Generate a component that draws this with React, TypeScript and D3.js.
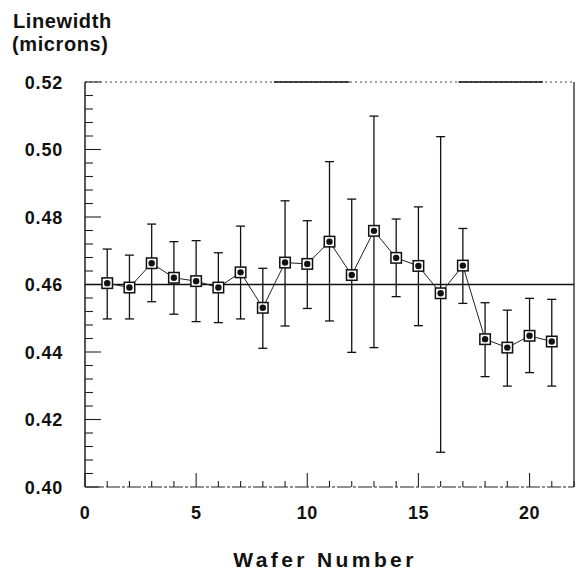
import React from "react";
import * as d3 from "d3";

const wafers = [1,2,3,4,5,6,7,8,9,10,11,12,13,14,15,16,17,18,19,20,21];
const means = [0.4604,0.4591,0.4663,0.4620,0.4610,0.4591,0.4636,0.4531,0.4665,0.4661,0.4727,0.4628,0.4759,0.4679,0.4655,0.4574,0.4656,0.4438,0.4413,0.4448,0.4431];
const upper = [0.4705,0.4687,0.4779,0.4727,0.4730,0.4694,0.4773,0.4648,0.4848,0.4789,0.4964,0.4853,0.5099,0.4794,0.4830,0.5038,0.4766,0.4546,0.4524,0.4559,0.4556];
const lower = [0.4498,0.4498,0.4549,0.4512,0.4490,0.4487,0.4498,0.4411,0.4477,0.4529,0.4492,0.4399,0.4413,0.4564,0.4478,0.4103,0.4544,0.4327,0.4299,0.4339,0.4299];
const yTickLabels = ["0.40","0.42","0.44","0.46","0.48","0.50","0.52"];
const xTickLabels = ["0","5","10","15","20"];
const target = 0.46;

const W = 576, H = 572;
const FONT = "'Liberation Sans', Arial, Helvetica, sans-serif";

export default function App() {
  const x = d3.scaleLinear().domain([0, 22]).range([85, 574]);
  const y = d3.scaleLinear().domain([0.40, 0.52]).range([487, 82]);
  const [x0, x1] = x.range();
  const [yb, yt] = y.range();

  const yMinor = d3.range(0, 31).map(i => 0.40 + i * 0.004);
  const xMinor = d3.range(0, 23);

  const line = d3.line<number>()
    .x((_, i) => x(wafers[i]))
    .y(d => y(d));

  const cap = 4.5;
  const sq = 10.5;

  return (
    <svg width={W} height={H} style={{ position: "absolute", left: 0, top: 0, background: "#fff" }}
      fontFamily={FONT}>
      <rect x={0} y={0} width={W} height={H} fill="#fff" />
      {/* axis titles */}
      <text x={13} y={28} fontSize={20} fontWeight="bold" letterSpacing={0.6} fill="#111">Linewidth</text>
      <text x={12} y={51} fontSize={20} fontWeight="bold" letterSpacing={0.6} fill="#111">(microns)</text>
      <text x={(230 + 420) / 2} y={567} fontSize={21} fontWeight="bold" letterSpacing={3.4} textAnchor="middle" fill="#111">Wafer Number</text>

      {/* frame */}
      <line x1={x0} x2={x0} y1={yt} y2={yb} stroke="#111" strokeWidth={1.4} />
      <line x1={x1} x2={x1} y1={yt} y2={yb} stroke="#111" strokeWidth={1.2} />
      <line x1={x0} x2={x1} y1={yb} y2={yb} stroke="#222" strokeWidth={1.1} strokeDasharray="14 2 3 2" />
      <line x1={x0} x2={x1} y1={yt} y2={yt} stroke="#444" strokeWidth={1} strokeDasharray="2 3" />
      <line x1={x(8.5)} x2={x(11.9)} y1={yt} y2={yt} stroke="#111" strokeWidth={1.3} />
      <line x1={x(16.8)} x2={x(20.6)} y1={yt} y2={yt} stroke="#111" strokeWidth={1.3} />

      {/* y ticks */}
      {yMinor.map((v, i) => {
        const major = i % 5 === 0;
        return <line key={"yt" + i} x1={x0} x2={x0 + (major ? 16 : 8)} y1={y(v)} y2={y(v)} stroke="#222" strokeWidth={1.1} />;
      })}
      {yTickLabels.map(t => (
        <text key={"yl" + t} x={63} y={y(+t) + 6.5} fontSize={18} fontWeight="bold" letterSpacing={0.8} textAnchor="end" fill="#111">{t}</text>
      ))}

      {/* x ticks */}
      {xMinor.map(v => {
        const major = v % 5 === 0;
        return <line key={"xt" + v} x1={x(v)} x2={x(v)} y1={yb} y2={yb - (major ? 14 : 6)} stroke="#222" strokeWidth={1.1} />;
      })}
      {xTickLabels.map(t => (
        <text key={"xl" + t} x={x(+t)} y={519} fontSize={18} fontWeight="bold" letterSpacing={0.5} textAnchor="middle" fill="#111">{t}</text>
      ))}

      {/* target line */}
      <line x1={x0} x2={x1} y1={y(target)} y2={y(target)} stroke="#111" strokeWidth={1.4} />

      {/* error bars */}
      {wafers.map((w, i) => (
        <g key={"eb" + w} stroke="#111" strokeWidth={1.3}>
          <line x1={x(w)} x2={x(w)} y1={y(upper[i])} y2={y(lower[i])} />
          <line x1={x(w) - cap} x2={x(w) + cap} y1={y(upper[i])} y2={y(upper[i])} />
          <line x1={x(w) - cap} x2={x(w) + cap} y1={y(lower[i])} y2={y(lower[i])} />
        </g>
      ))}

      {/* connecting line */}
      <path d={line(means) || ""} fill="none" stroke="#222" strokeWidth={1} />

      {/* markers */}
      {wafers.map((w, i) => (
        <g key={"m" + w}>
          <rect x={x(w) - sq / 2} y={y(means[i]) - sq / 2} width={sq} height={sq} fill="#fff" stroke="#111" strokeWidth={1.5} />
          <circle cx={x(w)} cy={y(means[i])} r={3.2} fill="#111" />
        </g>
      ))}
    </svg>
  );
}
